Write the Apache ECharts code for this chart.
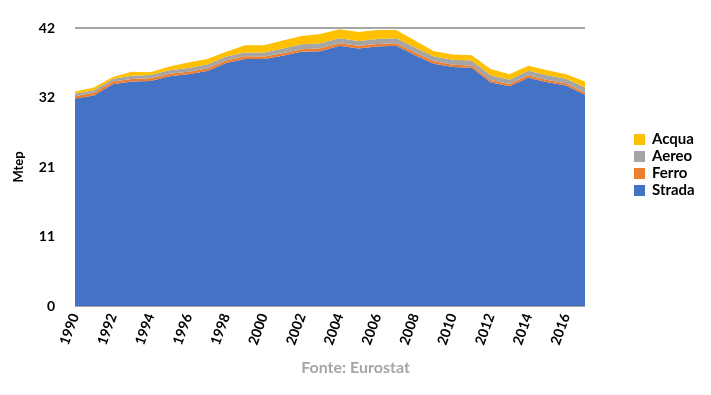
<!DOCTYPE html>
<html>
<head>
<meta charset="utf-8">
<script src="https://cdn.jsdelivr.net/npm/echarts@6/dist/echarts.min.js"></script>
<style>html,body{margin:0;padding:0;background:#fff;}#c{width:711px;height:395px;}</style>
</head>
<body>
<div id="c"></div>
<script>
const years = ['1990','1991','1992','1993','1994','1995','1996','1997','1998','1999','2000','2001','2002','2003','2004','2005','2006','2007','2008','2009','2010','2011','2012','2013','2014','2015','2016','2017'];
const strada = [31.3,31.8,33.5,33.9,34.0,34.7,35.0,35.5,36.7,37.3,37.3,37.8,38.4,38.5,39.3,38.9,39.2,39.3,37.9,36.6,36.1,36.0,33.8,33.2,34.5,33.8,33.3,31.9];
const ferro  = [0.4,0.4,0.4,0.4,0.4,0.4,0.4,0.4,0.4,0.45,0.4,0.4,0.4,0.45,0.4,0.4,0.4,0.4,0.4,0.4,0.35,0.35,0.35,0.35,0.35,0.35,0.35,0.35];
const aereo  = [0.35,0.4,0.4,0.5,0.5,0.5,0.55,0.6,0.6,0.55,0.6,0.7,0.75,0.75,0.75,0.75,0.75,0.75,0.75,0.7,0.75,0.75,0.7,0.65,0.7,0.7,0.7,0.75];
const acqua  = [0.35,0.4,0.3,0.6,0.4,0.6,0.85,0.8,0.7,1.1,1.1,1.2,1.25,1.4,1.35,1.35,1.35,1.25,1.05,0.8,0.8,0.8,0.95,0.8,0.75,0.75,0.65,0.9];
const yTickLabels = ['0','11','21','32','42'];
const seriesNames = ['Strada','Ferro','Aereo','Acqua'];
const legendOrder = ['Acqua','Aereo','Ferro','Strada'];

const colors = {Strada:'#4472C4', Ferro:'#ED7D31', Aereo:'#A5A5A5', Acqua:'#FFC000'};
const dataMap = {Strada:strada, Ferro:ferro, Aereo:aereo, Acqua:acqua};
const font = 'Lato, "Open Sans", "Liberation Sans", sans-serif';

const chart = echarts.init(document.getElementById('c'), null, {renderer:'canvas'});
chart.setOption({
  animation:false,
  backgroundColor:'#fff',
  color: seriesNames.map(n=>colors[n]),
  grid:{left:75, right:126, top:28, bottom:89, containLabel:false},
  legend:{
    data: legendOrder,
    orient:'vertical',
    left:629, top:126,
    itemWidth:11, itemHeight:11, itemGap:0,
    icon:'rect',
    textStyle:{fontFamily:font, fontWeight:'bold', fontSize:15, lineHeight:17, color:'#000', padding:[0,0,0,2]}
  },
  title:{
    text:'Fonte: Eurostat',
    left:'center', top:355,
    textStyle:{fontFamily:font, fontWeight:'bold', fontSize:16, color:'#a6a6a6'}
  },
  xAxis:{
    type:'category', data:years, boundaryGap:false,
    axisLine:{show:false}, axisTick:{show:false},
    axisLabel:{interval:1, rotate:70, margin:8, fontFamily:font, fontWeight:'bold', fontSize:14, color:'#000'},
    splitLine:{show:false}
  },
  yAxis:{
    type:'value', min:0, max:42, interval:10.5,
    name:'Mtep', nameLocation:'middle', nameGap:50, nameRotate:90,
    nameTextStyle:{fontFamily:font, fontWeight:'bold', fontSize:13, color:'#000'},
    axisLine:{show:false}, axisTick:{show:false},
    axisLabel:{margin:20, fontFamily:font, fontWeight:'bold', fontSize:14, color:'#000',
      formatter:(v)=>yTickLabels[Math.round(v/10.5)]},
    splitLine:{show:true, lineStyle:{color:'#a6a6a6', width:2}}
  },
  series: seriesNames.map(n=>({
    name:n, type:'line', stack:'total', data:dataMap[n],
    symbol:'none', lineStyle:{width:0}, areaStyle:{color:colors[n], opacity:1},
    itemStyle:{color:colors[n]}
  }))
});
</script>
</body>
</html>
